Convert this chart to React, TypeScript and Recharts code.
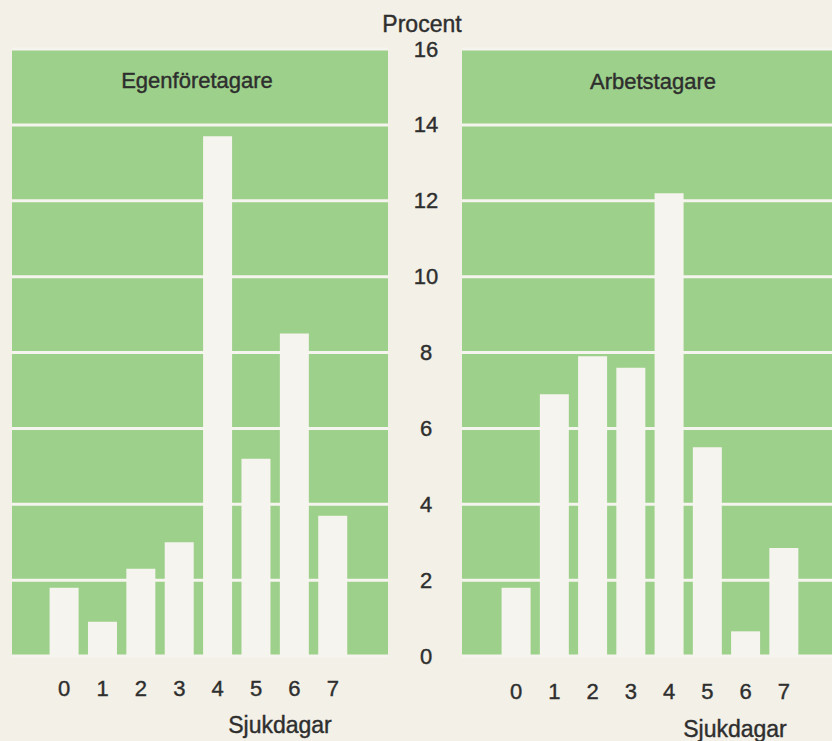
import { BarChart, Bar, XAxis, YAxis, CartesianGrid } from "recharts";

const days = ["0", "1", "2", "3", "4", "5", "6", "7"];
const egenforetagare = [1.8, 0.9, 2.3, 3.0, 13.7, 5.2, 8.5, 3.7];
const arbetstagare = [1.8, 6.9, 7.9, 7.6, 12.2, 5.5, 0.65, 2.85];
const yTicks = [0, 2, 4, 6, 8, 10, 12, 14, 16];

const leftData = days.map((day, i) => ({ day, value: egenforetagare[i] }));
const rightData = days.map((day, i) => ({ day, value: arbetstagare[i] }));

const GREEN = "#9dd08a";
const PAPER = "#f2f0e7";
const BAR = "#f6f4ee";
const INK = "#2e2e2e";
const FONT = "'Liberation Sans', Arial, sans-serif";

function CenterTick({ x, y, payload }: any) {
  return (
    <text
      x={x + 38}
      y={y}
      textAnchor="middle"
      dominantBaseline="central"
      fontSize={22}
      fill={INK}
      stroke={INK}
      strokeWidth={0.4}
    >
      {payload.value}
    </text>
  );
}

const NoTick = () => <g />;

const abs = (left: number, top: number): React.CSSProperties => ({
  position: "absolute",
  left,
  top,
});

const heading: React.CSSProperties = {
  width: 200,
  textAlign: "center",
  WebkitTextStroke: "0.4px #2e2e2e",
};

const xTick = { fontSize: 22, fill: INK, stroke: INK, strokeWidth: 0.4 };

export default function App() {
  return (
    <div
      style={{
        position: "absolute",
        left: 0,
        top: 0,
        width: 832,
        height: 741,
        overflow: "hidden",
        background: PAPER,
        fontFamily: FONT,
        color: INK,
      }}
    >
      <div style={abs(0, 0)}>
        <BarChart
          width={470}
          height={741}
          data={leftData}
          margin={{ top: 49, left: 12, right: 6, bottom: 0 }}
          barCategoryGap="12%"
        >
          <CartesianGrid
            vertical={false}
            fill={GREEN}
            fillOpacity={1}
            stroke={BAR}
            strokeWidth={3}
          />
          <XAxis
            dataKey="day"
            axisLine={false}
            tickLine={false}
            tickSize={0}
            tickMargin={24}
            height={85}
            padding={{ left: 33, right: 36 }}
            tick={xTick}
          />
          <YAxis
            orientation="right"
            domain={[0, 16]}
            ticks={yTicks}
            width={76}
            axisLine={false}
            tickLine={false}
            tickSize={0}
            tickMargin={0}
            tick={<CenterTick />}
          />
          <Bar dataKey="value" fill={BAR} isAnimationActive={false} />
        </BarChart>
      </div>

      <div style={abs(450, 0)}>
        <BarChart
          width={390}
          height={741}
          data={rightData}
          margin={{ top: 49, left: 12, right: 3, bottom: 0 }}
          barCategoryGap="12%"
        >
          <CartesianGrid
            vertical={false}
            fill={GREEN}
            fillOpacity={1}
            stroke={BAR}
            strokeWidth={3}
          />
          <XAxis
            dataKey="day"
            axisLine={false}
            tickLine={false}
            tickSize={0}
            tickMargin={27}
            height={85}
            padding={{ left: 35, right: 34 }}
            tick={xTick}
          />
          <YAxis
            domain={[0, 16]}
            ticks={yTicks}
            width={0}
            axisLine={false}
            tickLine={false}
            tickSize={0}
            tick={<NoTick />}
          />
          <Bar dataKey="value" fill={BAR} isAnimationActive={false} />
        </BarChart>
      </div>

      <div style={{ ...abs(322, 11), ...heading, fontSize: 23 }}>Procent</div>
      <div style={{ ...abs(97, 68), ...heading, fontSize: 22 }}>Egenföretagare</div>
      <div style={{ ...abs(553, 69), ...heading, fontSize: 22 }}>Arbetstagare</div>
      <div style={{ ...abs(180, 712), ...heading, fontSize: 23 }}>Sjukdagar</div>
      <div style={{ ...abs(635, 716), ...heading, fontSize: 23 }}>Sjukdagar</div>
    </div>
  );
}
